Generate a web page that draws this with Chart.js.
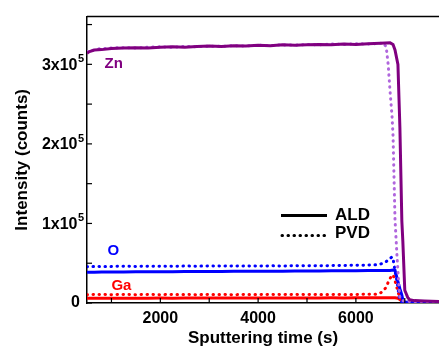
<!DOCTYPE html>
<html>
<head>
<meta charset="utf-8">
<script src="https://cdn.jsdelivr.net/npm/chart.js@4.4.1/dist/chart.umd.min.js"></script>
<style>
  body { margin: 0; background: #fff; }
  canvas { display: block; }
</style>
</head>
<body>
<canvas id="chart" width="439" height="349"></canvas>
<script>
// sputtering time (s)
const aldTime = [500, 550, 650, 800,
  1000, 1250, 1500, 1750, 2000, 2250, 2500, 2750, 3000, 3250, 3500, 3750,
  4000, 4250, 4500, 4750, 5000, 5250, 5500, 5750, 6000, 6250, 6500,
  6700, 6760, 6800, 6860, 6900, 6940, 6960, 7000, 7060, 7100, 7200, 7400, 7700];
const pvdTime = [500, 750, 1000, 1250, 1500, 1750, 2000, 2250, 2500, 2750,
  3000, 3250, 3500, 3750, 4000, 4250, 4500, 4750, 5000, 5250, 5500, 5750, 6000, 6250,
  6400, 6500, 6560, 6620, 6660, 6700, 6740, 6760, 6800, 6840, 6880, 6900, 6940,
  7000, 7100, 7200, 7400, 7700];

// intensity (counts)
const znALD = [314000, 316000, 318000, 318500,
  320000, 320500, 321000, 320500, 321500, 322000, 321500, 322500, 323000, 322500, 323500, 323000,
  324000, 323500, 324500, 324000, 324500, 325000, 324500, 325500, 325000, 326000, 326500,
  327000, 325000, 318000, 300000, 221000, 103000, 78000, 16000, 7000, 4000, 3000, 2500, 2000];
const oALD = [38500, 38600, 38800, 39000,
  39000, 39100, 39200, 39200, 39300, 39400, 39500, 39500, 39600, 39700, 39800, 39800,
  39900, 40000, 40000, 40100, 40200, 40300, 40400, 40500, 40600, 40700, 40800,
  41000, 41500, 41000, 27000, 18000, 10000, 4000, 1000, 800, 800, 800, 800, 800];
const gaALD = [6000, 6000, 6100, 6000,
  6100, 6000, 6100, 6100, 6200, 6100, 6200, 6200, 6300, 6200, 6300, 6300,
  6300, 6400, 6300, 6400, 6400, 6400, 6500, 6400, 6500, 6500, 6500,
  6500, 6500, 6500, 6000, 4500, 2500, 1500, 800, 500, 500, 500, 500, 500];

const znPVD = [316000, 319500, 320500, 321000, 320500, 321500, 322000, 321500, 322500, 322000,
  323000, 322500, 323500, 323000, 324000, 323500, 324500, 324000, 325000, 324500, 325500, 325000, 326000, 325500,
  326000, 326500, 327000, 322000, 300000, 265000, 234000, 210000, 105000, 60000, 20000, 7000, 3000,
  2500, 2000, 2000, 2000, 2000];
const oPVD = [45500, 46000, 46000, 46200, 46000, 46200, 46300, 46200, 46400, 46300,
  46500, 46400, 46500, 46600, 46500, 46700, 46600, 46800, 46700, 46900, 47000, 47200, 47400, 47700,
  48000, 49000, 50000, 52000, 54000, 56000, 58000, 56000, 40000, 28000, 10000, 3000, 1500,
  1000, 800, 800, 800, 800];
const gaPVD = [10500, 10600, 10500, 10600, 10500, 10600, 10500, 10600, 10600, 10500,
  10600, 10600, 10500, 10600, 10600, 10700, 10600, 10700, 10600, 10700, 10700, 10800, 10800, 10900,
  11000, 12500, 15000, 20000, 26000, 31000, 35000, 35500, 28000, 19000, 10000, 5000, 1500,
  800, 500, 500, 500, 500];

// axis ticks (labelled every other one)
const xTicks = [1000, 2000, 3000, 4000, 5000, 6000, 7000];
const yTicks = [0, 50000, 100000, 150000, 200000, 250000, 300000, 350000];

const FONT = "'Liberation Sans', Arial, sans-serif";
const ZN = '#800080', ZN_LIGHT = '#b066dd', BLUE = '#0000ff', RED = '#ff0000';

function pts(xs, ys) {
  return xs.map((x, i) => ({ x, y: ys[i] }));
}

function solid(label, data, color) {
  return { label, data, borderColor: color, borderWidth: 3, pointRadius: 0, fill: false };
}

function dotted(label, data, color) {
  return {
    label, data, borderColor: color, borderWidth: 3, pointRadius: 0, fill: false,
    borderDash: [0.5, 5.5], borderCapStyle: 'round',
  };
}

const decorations = {
  id: 'decorations',
  afterDraw(chart) {
    const { ctx, chartArea: a, scales: { x, y } } = chart;
    ctx.save();
    ctx.strokeStyle = '#000';
    ctx.lineWidth = 1.5;
    // top frame line
    ctx.beginPath();
    ctx.moveTo(a.left, a.top);
    ctx.lineTo(a.right, a.top);
    ctx.stroke();
    // inward ticks
    ctx.lineWidth = 1.2;
    x.ticks.forEach(t => {
      const px = x.getPixelForValue(t.value);
      ctx.beginPath();
      ctx.moveTo(px, a.bottom);
      ctx.lineTo(px, a.bottom - 5);
      ctx.stroke();
    });
    y.ticks.forEach(t => {
      const py = y.getPixelForValue(t.value);
      ctx.beginPath();
      ctx.moveTo(a.left, py);
      ctx.lineTo(a.left + 5, py);
      ctx.stroke();
    });

    // y labels with a real superscript exponent
    ctx.fillStyle = '#000';
    ctx.textBaseline = 'middle';
    y.ticks.forEach(t => {
      if (t.value === 0 || t.value % 100000 !== 0) return;
      const py = y.getPixelForValue(t.value);
      ctx.font = 'bold 16px ' + FONT;
      ctx.textAlign = 'right';
      ctx.fillText((t.value / 100000) + 'x10', a.left - 9.5, py + 1);
      ctx.font = 'bold 11px ' + FONT;
      ctx.textAlign = 'left';
      ctx.fillText('5', a.left - 9, py - 5);
    });

    // element labels
    ctx.font = 'bold 15px ' + FONT;
    ctx.textAlign = 'left';
    [['Zn', 860, 300000, ZN], ['O', 920, 65000, BLUE], ['Ga', 1000, 22000, RED]].forEach(([txt, tx, ty, c]) => {
      ctx.fillStyle = c;
      ctx.fillText(txt, x.getPixelForValue(tx), y.getPixelForValue(ty));
    });

    // legend
    const lx = a.left + 194, ly = a.top + 199;
    ctx.strokeStyle = '#000';
    ctx.lineWidth = 3;
    ctx.beginPath();
    ctx.moveTo(lx, ly);
    ctx.lineTo(lx + 46, ly);
    ctx.stroke();
    ctx.setLineDash([0.5, 5.5]);
    ctx.lineCap = 'round';
    ctx.beginPath();
    ctx.moveTo(lx + 1, ly + 20);
    ctx.lineTo(lx + 46, ly + 20);
    ctx.stroke();
    ctx.setLineDash([]);
    ctx.fillStyle = '#000';
    ctx.font = 'bold 17px ' + FONT;
    ctx.fillText('ALD', lx + 54, ly);
    ctx.fillText('PVD', lx + 54, ly + 18);
    ctx.restore();
  },
};

new Chart(document.getElementById('chart').getContext('2d'), {
  type: 'line',
  data: {
    datasets: [
      solid('Zn ALD', pts(aldTime, znALD), ZN),
      dotted('Zn PVD', pts(pvdTime, znPVD), ZN_LIGHT),
      solid('O ALD', pts(aldTime, oALD), BLUE),
      dotted('O PVD', pts(pvdTime, oPVD), BLUE),
      solid('Ga ALD', pts(aldTime, gaALD), RED),
      dotted('Ga PVD', pts(pvdTime, gaPVD), RED),
    ],
  },
  options: {
    responsive: false,
    animation: false,
    layout: { padding: { top: 12, left: 0, right: 0, bottom: 0 } },
    plugins: { legend: { display: false }, tooltip: { enabled: false } },
    scales: {
      x: {
        type: 'linear',
        min: 500,
        max: 7700,
        afterBuildTicks: s => { s.ticks = xTicks.map(value => ({ value })); },
        afterFit: s => { s.height = 46; },
        border: { display: true, color: '#000', width: 1.5 },
        grid: { drawOnChartArea: false, drawTicks: false },
        ticks: {
          autoSkip: false,
          maxRotation: 0,
          padding: 6,
          color: '#000',
          font: { family: FONT, size: 16, weight: 'bold' },
          callback: v => (v % 2000 === 0 ? String(v) : ''),
        },
        title: {
          display: true,
          text: 'Sputtering time (s)',
          color: '#000',
          padding: { top: 0, bottom: 0 },
          font: { family: FONT, size: 17, weight: 'bold' },
        },
      },
      y: {
        min: 0,
        max: 360000,
        afterBuildTicks: s => { s.ticks = yTicks.map(value => ({ value })); },
        afterFit: s => { s.width = 87; },
        border: { display: true, color: '#000', width: 1.5 },
        grid: { drawOnChartArea: false, drawTicks: false },
        ticks: {
          autoSkip: false,
          padding: 7,
          color: '#000',
          font: { family: FONT, size: 16, weight: 'bold' },
          callback: v => (v === 0 ? '0' : ''),
        },
        title: {
          display: true,
          text: 'Intensity (counts)',
          color: '#000',
          padding: { top: 12, bottom: 0 },
          font: { family: FONT, size: 17, weight: 'bold' },
        },
      },
    },
  },
  plugins: [decorations],
});
</script>
</body>
</html>
